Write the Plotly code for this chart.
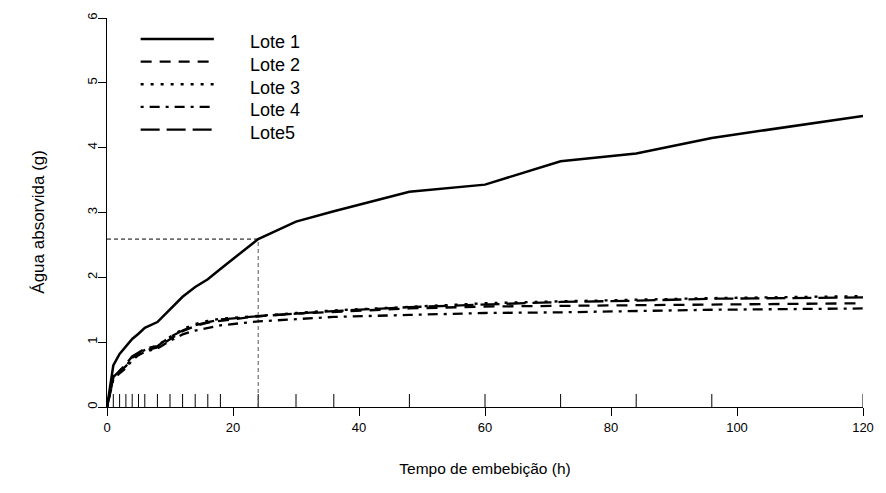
import plotly.graph_objects as go

# ---- data ----
tempo = [0, 1, 2, 3, 4, 5, 6, 8, 10, 12, 14, 16, 18, 24, 30, 36, 48, 60, 72, 84, 96, 120]
lote1 = [0, 0.64, 0.82, 0.93, 1.05, 1.13, 1.22, 1.31, 1.51, 1.70, 1.85, 1.97, 2.13, 2.59, 2.86, 3.02, 3.32, 3.43, 3.79, 3.91, 4.15, 4.49]
lote2 = [0, 0.45, 0.55, 0.63, 0.76, 0.82, 0.87, 0.92, 1.05, 1.17, 1.25, 1.30, 1.33, 1.40, 1.44, 1.47, 1.52, 1.55, 1.56, 1.58, 1.59, 1.60]
lote3 = [0, 0.47, 0.56, 0.64, 0.74, 0.83, 0.88, 0.95, 1.08, 1.20, 1.28, 1.33, 1.36, 1.41, 1.45, 1.49, 1.55, 1.60, 1.63, 1.66, 1.68, 1.71]
lote4 = [0, 0.42, 0.52, 0.60, 0.72, 0.80, 0.85, 0.90, 1.02, 1.12, 1.18, 1.22, 1.26, 1.32, 1.36, 1.39, 1.42, 1.45, 1.46, 1.48, 1.50, 1.52]
lote5 = [0, 0.46, 0.56, 0.66, 0.78, 0.84, 0.90, 0.94, 1.08, 1.18, 1.26, 1.31, 1.35, 1.40, 1.44, 1.48, 1.54, 1.58, 1.62, 1.64, 1.67, 1.69]
nomes = ["Lote 1", "Lote 2", "Lote 3", "Lote 4", "Lote5"]
x_ticks = [0, 20, 40, 60, 80, 100, 120]
y_ticks = [0, 1, 2, 3, 4, 5, 6]
t_ref = 24  # reference time marked with dashed lines
x_title = "Tempo de embebição (h)"
y_title = "Água absorvida (g)"

series = [lote1, lote2, lote3, lote4, lote5]
dashes = ["solid", "11px,8px", "3px,7px", "3px,6px,10px,6px", "19px,7px"]
widths = [2.5, 2.3, 2.3, 2.3, 2.3]
FONT = "Liberation Sans, Arial, sans-serif"

fig = go.Figure()

# rug ticks at the observation times
rug_len = 0.2
rx, ry = [], []
for t in tempo[1:]:
    rx += [t, t, None]
    ry += [0, rug_len, None]
fig.add_trace(go.Scatter(x=rx, y=ry, mode="lines", line=dict(color="black", width=1),
                         showlegend=False, hoverinfo="skip"))

# reference dashed lines at t=24 h
y_ref = lote1[tempo.index(t_ref)]
fig.add_trace(go.Scatter(x=[0, t_ref], y=[y_ref, y_ref], mode="lines",
                         line=dict(color="black", width=1, dash="4px,3px"),
                         showlegend=False, hoverinfo="skip"))
fig.add_trace(go.Scatter(x=[t_ref, t_ref], y=[0, y_ref], mode="lines",
                         line=dict(color="#555555", width=1, dash="4px,3px"),
                         showlegend=False, hoverinfo="skip"))

for nome, ys, d, w in zip(nomes, series, dashes, widths):
    fig.add_trace(go.Scatter(x=tempo, y=ys, mode="lines", name=nome,
                             line=dict(color="black", width=w, dash=d),
                             showlegend=False))

# manual legend (R style, no box)
W, H = 886, 493
L, R, T, B = 107, 15, 16, 86
pw, ph = W - L - R, H - T - B
def px(xp):
    return (xp - L) / pw
def py(yp):
    return (H - B - yp) / ph

shapes = []
annotations = []
for i, (nome, d, w) in enumerate(zip(nomes, dashes, widths)):
    yl = 37 + 22.8 * i
    shapes.append(dict(type="line", xref="paper", yref="paper",
                       x0=px(141), x1=px(215), y0=py(yl), y1=py(yl),
                       line=dict(color="black", width=w, dash=d)))
    annotations.append(dict(xref="paper", yref="paper", x=px(249), y=py(yl + 3.5),
                            text=nome, showarrow=False, xanchor="left", yanchor="middle",
                            font=dict(family=FONT, size=18, color="black")))

# y axis title (rotated, R style placement)
annotations.append(dict(xref="paper", yref="paper", x=px(38), y=py(221),
                        text=y_title, textangle=-90, showarrow=False,
                        xanchor="center", yanchor="middle",
                        font=dict(family=FONT, size=17, color="black")))

fig.update_layout(
    width=W, height=H,
    margin=dict(l=L, r=R, t=T, b=B),
    paper_bgcolor="white", plot_bgcolor="white",
    font=dict(family=FONT, size=13, color="black"),
    shapes=shapes, annotations=annotations,
    showlegend=False,
)
fig.update_xaxes(range=[0, 120], tickvals=x_ticks, ticks="outside", ticklen=8,
                 tickcolor="black", showline=True, linecolor="black", linewidth=1,
                 showgrid=False, zeroline=False,
                 title=dict(text=x_title, font=dict(family=FONT, size=15.5), standoff=29))
fig.update_yaxes(range=[0, 6], tickvals=y_ticks, ticks="outside", ticklen=8,
                 tickcolor="black", showline=True, linecolor="black", linewidth=1,
                 showgrid=False, zeroline=False, tickangle=-90, ticklabelstandoff=-4)

fig.write_html("out.html", config={"displayModeBar": False},
               post_script="document.body.style.margin='0px';")
